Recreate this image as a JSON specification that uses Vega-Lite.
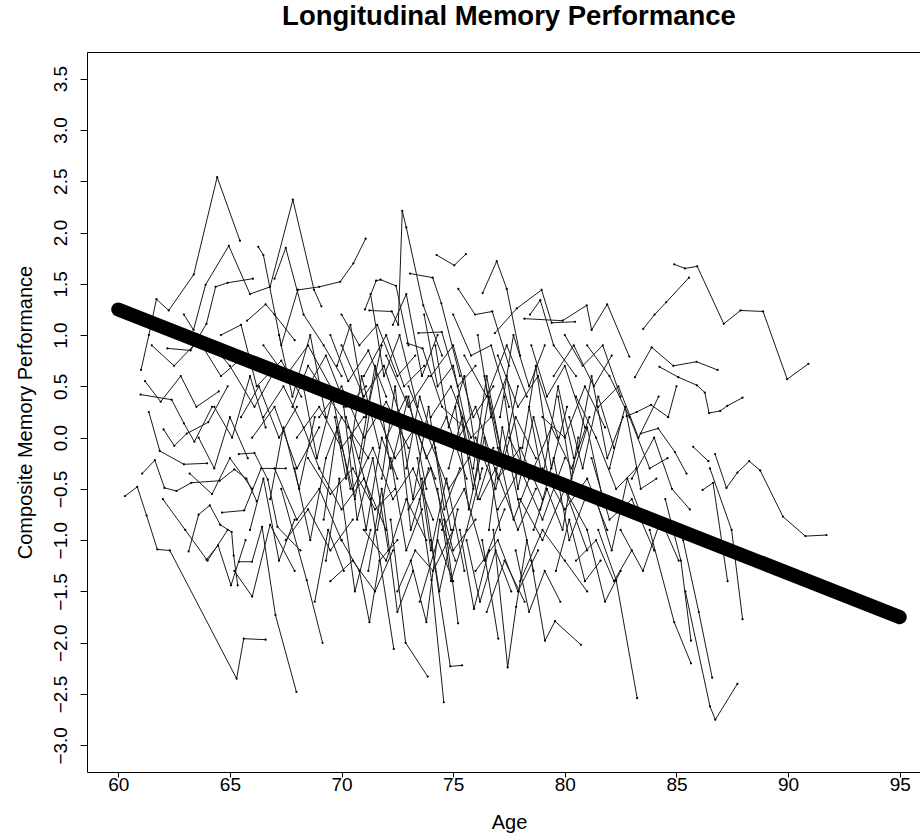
{
"$schema": "https://vega.github.io/schema/vega-lite/v6.json",
"width": 844, "height": 720,
"autosize": {"type": "none"},
"padding": {"left": 87, "top": 52, "right": 0, "bottom": 62},
"background": "white",
"title": {"text": "Longitudinal Memory Performance", "fontSize": 27.5, "fontWeight": "bold", "font": "Liberation Sans", "anchor": "middle", "offset": 0, "baseline": "alphabetic", "color": "black"},
"config": {
  "view": {"stroke": "black", "strokeWidth": 1},
  "axis": {"grid": false, "domain": false, "tickColor": "black", "tickSize": 7, "labelFont": "Liberation Sans", "labelFontSize": 19, "labelColor": "black", "titleFont": "Liberation Sans", "titleFontSize": 20, "titleFontWeight": "normal", "titleColor": "black"}
},
"datasets": {
"fit": [{"age": 60, "mem": 1.25}, {"age": 95, "mem": -1.75}],
"obs": [
{"id":1,"age":60.3,"mem":-0.57},{"id":1,"age":60.85,"mem":-0.48},{"id":1,"age":61.27,"mem":-0.76},{"id":1,"age":61.75,"mem":-1.09},{"id":1,"age":62.31,"mem":-1.1},{"id":1,"age":65.3,"mem":-2.35},{"id":1,"age":65.62,"mem":-1.96},{"id":1,"age":66.6,"mem":-1.97},
{"id":2,"age":61.02,"mem":0.66},{"id":2,"age":61.37,"mem":1.0},{"id":2,"age":61.71,"mem":1.35},{"id":2,"age":62.26,"mem":1.24},{"id":2,"age":63.38,"mem":1.59},{"id":2,"age":64.43,"mem":2.54},{"id":2,"age":65.45,"mem":1.92},
{"id":3,"age":61.07,"mem":-0.35},{"id":3,"age":61.64,"mem":-0.22},{"id":3,"age":62.07,"mem":-0.49},{"id":3,"age":62.61,"mem":-0.52},{"id":3,"age":63.27,"mem":-0.44},{"id":3,"age":64.55,"mem":-0.42},{"id":3,"age":65.2,"mem":-0.31},{"id":3,"age":65.74,"mem":-0.4},{"id":3,"age":66.2,"mem":-0.62},
{"id":4,"age":61.37,"mem":0.25},{"id":4,"age":61.86,"mem":-0.13},{"id":4,"age":62.94,"mem":-0.26},{"id":4,"age":63.98,"mem":-0.25},
{"id":5,"age":62.03,"mem":0.08},{"id":5,"age":62.51,"mem":-0.08},{"id":5,"age":63.07,"mem":0.04},{"id":5,"age":64.03,"mem":0.15},{"id":5,"age":64.9,"mem":0.5},
{"id":6,"age":61.0,"mem":0.42},{"id":6,"age":62.39,"mem":0.37},{"id":6,"age":62.94,"mem":0.14},{"id":6,"age":63.41,"mem":-0.04},{"id":6,"age":64.2,"mem":0.3},
{"id":7,"age":63.15,"mem":-1.11},{"id":7,"age":63.6,"mem":-0.75},{"id":7,"age":64.1,"mem":-0.66},{"id":7,"age":64.57,"mem":-0.85},{"id":7,"age":65.08,"mem":-0.92},{"id":7,"age":65.17,"mem":-1.15},{"id":7,"age":65.35,"mem":-1.44},
{"id":8,"age":63.95,"mem":-1.19},{"id":8,"age":64.47,"mem":-1.05},{"id":8,"age":65.05,"mem":-1.44},{"id":8,"age":65.7,"mem":-1.0},
{"id":9,"age":65.4,"mem":-1.21},{"id":9,"age":65.99,"mem":-1.21},{"id":9,"age":66.44,"mem":-0.87},{"id":9,"age":67.04,"mem":-1.73},{"id":9,"age":67.98,"mem":-2.48},
{"id":10,"age":62.2,"mem":0.87},{"id":10,"age":63.24,"mem":0.85},{"id":10,"age":63.95,"mem":1.11},{"id":10,"age":64.36,"mem":1.47},{"id":10,"age":64.9,"mem":1.51},{"id":10,"age":66.03,"mem":1.55},
{"id":11,"age":62.94,"mem":1.2},{"id":11,"age":63.37,"mem":1.05},{"id":11,"age":63.91,"mem":1.49},{"id":11,"age":64.95,"mem":1.87},{"id":11,"age":65.9,"mem":1.4},{"id":11,"age":66.8,"mem":1.47},{"id":11,"age":67.82,"mem":2.32},{"id":11,"age":68.77,"mem":1.44},{"id":11,"age":69.1,"mem":1.28},
{"id":12,"age":66.27,"mem":1.86},{"id":12,"age":66.5,"mem":1.78},{"id":12,"age":67.3,"mem":0.9},{"id":12,"age":68.04,"mem":1.44},
{"id":13,"age":65.4,"mem":-0.16},{"id":13,"age":66.1,"mem":-0.15},{"id":13,"age":66.7,"mem":-0.41},{"id":13,"age":67.13,"mem":-0.87},{"id":13,"age":68.16,"mem":-1.1},
{"id":14,"age":64.65,"mem":-0.73},{"id":14,"age":65.64,"mem":-0.71},{"id":14,"age":66.4,"mem":-0.3},{"id":14,"age":67.5,"mem":-0.3},
{"id":15,"age":61.2,"mem":0.55},{"id":15,"age":61.9,"mem":0.35},{"id":15,"age":62.8,"mem":0.6},{"id":15,"age":63.5,"mem":0.3},{"id":15,"age":64.5,"mem":0.45},
{"id":16,"age":61.5,"mem":0.9},{"id":16,"age":62.5,"mem":0.7},{"id":16,"age":63.6,"mem":0.95},{"id":16,"age":64.6,"mem":0.6},{"id":16,"age":65.4,"mem":0.75},
{"id":17,"age":62.0,"mem":-0.6},{"id":17,"age":63.0,"mem":-0.9},{"id":17,"age":64.0,"mem":-1.2},{"id":17,"age":64.9,"mem":-0.9},
{"id":18,"age":63.2,"mem":-0.35},{"id":18,"age":64.2,"mem":-0.55},{"id":18,"age":65.0,"mem":-0.2},{"id":18,"age":66.0,"mem":-0.5},
{"id":19,"age":64.0,"mem":0.95},{"id":19,"age":65.0,"mem":0.7},{"id":19,"age":66.1,"mem":0.3},{"id":19,"age":67.0,"mem":0.65},
{"id":20,"age":64.6,"mem":1.0},{"id":20,"age":65.5,"mem":1.1},{"id":20,"age":66.2,"mem":0.5},{"id":20,"age":67.3,"mem":0.75},{"id":20,"age":68.2,"mem":0.4},
{"id":21,"age":65.2,"mem":-1.3},{"id":21,"age":66.0,"mem":-1.55},{"id":21,"age":66.8,"mem":-0.85},{"id":21,"age":67.9,"mem":-1.3},
{"id":23,"age":65.77,"mem":1.14},{"id":23,"age":66.6,"mem":1.3},{"id":23,"age":67.0,"mem":1.2},{"id":23,"age":67.9,"mem":0.95},
{"id":24,"age":66.5,"mem":0.2},{"id":24,"age":67.4,"mem":0.5},{"id":24,"age":68.3,"mem":0.1},{"id":24,"age":69.0,"mem":-0.3},
{"id":25,"age":67.0,"mem":1.55},{"id":25,"age":67.5,"mem":1.85},{"id":25,"age":68.3,"mem":1.2},{"id":25,"age":69.2,"mem":0.9},{"id":25,"age":70.0,"mem":0.6},
{"id":26,"age":67.8,"mem":0.3},{"id":26,"age":68.5,"mem":0.7},{"id":26,"age":69.4,"mem":0.4},{"id":26,"age":70.3,"mem":0.1},{"id":26,"age":71.2,"mem":-0.2},
{"id":27,"age":68.03,"mem":1.44},{"id":27,"age":69.0,"mem":1.47},{"id":27,"age":69.94,"mem":1.52},{"id":27,"age":70.53,"mem":1.7},{"id":27,"age":71.08,"mem":1.94},
{"id":28,"age":68.5,"mem":-0.2},{"id":28,"age":69.5,"mem":-0.55},{"id":28,"age":70.5,"mem":-0.3},{"id":28,"age":71.5,"mem":-0.7},{"id":28,"age":72.4,"mem":-0.5},
{"id":29,"age":67.3,"mem":-0.5},{"id":29,"age":68.44,"mem":-1.39},{"id":29,"age":69.15,"mem":-2.0},
{"id":30,"age":69.0,"mem":0.2},{"id":30,"age":70.0,"mem":0.5},{"id":30,"age":71.0,"mem":0.0},{"id":30,"age":72.0,"mem":0.35},{"id":30,"age":73.0,"mem":-0.1},
{"id":31,"age":69.5,"mem":1.0},{"id":31,"age":70.3,"mem":0.55},{"id":31,"age":71.2,"mem":0.85},{"id":31,"age":72.0,"mem":0.4},
{"id":32,"age":70.0,"mem":-1.0},{"id":32,"age":70.8,"mem":-1.3},{"id":32,"age":71.25,"mem":-1.8},{"id":32,"age":71.7,"mem":-1.2},{"id":32,"age":72.5,"mem":-1.0},
{"id":33,"age":70.2,"mem":0.2},{"id":33,"age":71.3,"mem":-0.6},{"id":33,"age":72.34,"mem":-2.06},
{"id":34,"age":71.05,"mem":1.25},{"id":34,"age":71.55,"mem":1.53},{"id":34,"age":71.75,"mem":1.54},{"id":34,"age":72.44,"mem":1.48},{"id":34,"age":73.0,"mem":0.9},
{"id":35,"age":71.25,"mem":1.24},{"id":35,"age":72.25,"mem":1.23},{"id":35,"age":72.54,"mem":1.1},{"id":35,"age":72.72,"mem":2.21},{"id":35,"age":72.9,"mem":2.05},{"id":35,"age":73.66,"mem":1.29},{"id":35,"age":74.5,"mem":0.8},
{"id":36,"age":73.07,"mem":1.6},{"id":36,"age":74.08,"mem":1.56},{"id":36,"age":74.47,"mem":1.31},{"id":36,"age":75.3,"mem":0.6},
{"id":37,"age":74.26,"mem":1.78},{"id":37,"age":75.05,"mem":1.68},{"id":37,"age":75.57,"mem":1.79},
{"id":38,"age":75.23,"mem":1.45},{"id":38,"age":75.98,"mem":1.2},{"id":38,"age":76.75,"mem":1.23},{"id":38,"age":77.5,"mem":0.7},
{"id":39,"age":73.44,"mem":1.02},{"id":39,"age":74.49,"mem":1.03},{"id":39,"age":75.2,"mem":0.5},{"id":39,"age":76.0,"mem":0.7},
{"id":40,"age":72.95,"mem":0.92},{"id":40,"age":73.63,"mem":0.87},{"id":40,"age":74.5,"mem":0.3},{"id":40,"age":75.5,"mem":0.1},
{"id":41,"age":76.32,"mem":1.41},{"id":41,"age":76.95,"mem":1.72},{"id":41,"age":77.4,"mem":1.45},{"id":41,"age":78.0,"mem":0.8},
{"id":42,"age":76.87,"mem":1.02},{"id":42,"age":77.85,"mem":1.26},{"id":42,"age":78.96,"mem":1.44},{"id":42,"age":79.41,"mem":1.12},{"id":42,"age":80.46,"mem":1.13},
{"id":43,"age":78.44,"mem":1.2},{"id":43,"age":78.9,"mem":1.34},{"id":43,"age":79.5,"mem":0.9},{"id":43,"age":80.5,"mem":0.6},
{"id":44,"age":78.19,"mem":1.16},{"id":44,"age":79.9,"mem":1.14},{"id":44,"age":80.98,"mem":1.29},{"id":44,"age":81.2,"mem":1.05},{"id":44,"age":81.9,"mem":1.3},{"id":44,"age":82.89,"mem":0.79},
{"id":45,"age":83.14,"mem":0.59},{"id":45,"age":83.89,"mem":0.88},{"id":45,"age":84.86,"mem":0.7},{"id":45,"age":85.9,"mem":0.74},{"id":45,"age":86.84,"mem":0.66},
{"id":46,"age":84.9,"mem":1.69},{"id":46,"age":85.38,"mem":1.65},{"id":46,"age":85.93,"mem":1.67},{"id":46,"age":87.12,"mem":1.11},{"id":46,"age":87.87,"mem":1.24},{"id":46,"age":88.88,"mem":1.23},{"id":46,"age":89.96,"mem":0.57},{"id":46,"age":90.91,"mem":0.72},
{"id":47,"age":83.51,"mem":1.06},{"id":47,"age":84.02,"mem":1.2},{"id":47,"age":84.54,"mem":1.32},{"id":47,"age":85.56,"mem":1.56},
{"id":48,"age":84.24,"mem":0.69},{"id":48,"age":85.08,"mem":0.59},{"id":48,"age":85.92,"mem":0.51},{"id":48,"age":86.27,"mem":0.44},{"id":48,"age":86.46,"mem":0.24},{"id":48,"age":86.96,"mem":0.26},{"id":48,"age":87.28,"mem":0.31},{"id":48,"age":87.96,"mem":0.39},
{"id":49,"age":86.73,"mem":-0.16},{"id":49,"age":87.24,"mem":-0.49},{"id":49,"age":87.73,"mem":-0.34},{"id":49,"age":88.26,"mem":-0.23},{"id":49,"age":88.75,"mem":-0.32},{"id":49,"age":89.77,"mem":-0.77},{"id":49,"age":90.77,"mem":-0.96},{"id":49,"age":91.72,"mem":-0.95},
{"id":50,"age":86.17,"mem":-0.51},{"id":50,"age":86.64,"mem":-0.44},{"id":50,"age":87.29,"mem":-1.4},
{"id":51,"age":86.5,"mem":-0.3},{"id":51,"age":87.47,"mem":-0.9},{"id":51,"age":87.96,"mem":-1.77},
{"id":52,"age":85.3,"mem":-1.0},{"id":52,"age":86.0,"mem":-1.7},{"id":52,"age":86.6,"mem":-2.34},
{"id":53,"age":85.4,"mem":-1.5},{"id":53,"age":86.5,"mem":-2.62},{"id":53,"age":86.74,"mem":-2.75},{"id":53,"age":87.73,"mem":-2.4},
{"id":54,"age":81.5,"mem":-0.9},{"id":54,"age":82.3,"mem":-1.39},{"id":54,"age":83.24,"mem":-2.54},
{"id":55,"age":83.8,"mem":-0.9},{"id":55,"age":84.9,"mem":-1.8},{"id":55,"age":85.65,"mem":-2.2},
{"id":56,"age":84.5,"mem":-0.6},{"id":56,"age":85.2,"mem":-1.2},{"id":56,"age":85.65,"mem":-1.98},
{"id":57,"age":78.5,"mem":-1.2},{"id":57,"age":79.11,"mem":-1.98},{"id":57,"age":79.56,"mem":-1.79},{"id":57,"age":80.72,"mem":-2.02},
{"id":58,"age":76.3,"mem":-1.0},{"id":58,"age":77.02,"mem":-1.96},
{"id":59,"age":76.8,"mem":-0.9},{"id":59,"age":77.44,"mem":-2.24},{"id":59,"age":77.82,"mem":-1.65},{"id":59,"age":78.3,"mem":-1.0},
{"id":60,"age":74.0,"mem":-1.0},{"id":60,"age":74.87,"mem":-2.23},{"id":60,"age":75.4,"mem":-2.22},
{"id":61,"age":73.5,"mem":-0.6},{"id":61,"age":74.03,"mem":-1.39},{"id":61,"age":74.58,"mem":-2.58},
{"id":62,"age":72.2,"mem":-0.8},{"id":62,"age":72.87,"mem":-2.0},{"id":62,"age":73.86,"mem":-2.33},
{"id":63,"age":73.6,"mem":-0.4},{"id":63,"age":74.38,"mem":-1.5},{"id":63,"age":75.2,"mem":-0.7},
{"id":64,"age":74.6,"mem":-0.8},{"id":64,"age":75.22,"mem":-1.81},
{"id":65,"age":75.3,"mem":-0.9},{"id":65,"age":75.93,"mem":-1.67},{"id":65,"age":76.6,"mem":-1.1},
{"id":66,"age":76.2,"mem":-0.6},{"id":66,"age":76.9,"mem":-0.3},{"id":66,"age":77.9,"mem":-0.9},{"id":66,"age":78.7,"mem":-0.5},
{"id":67,"age":82.77,"mem":0.21},{"id":67,"age":83.22,"mem":0.25},{"id":67,"age":83.86,"mem":0.32},{"id":67,"age":84.63,"mem":0.2},{"id":67,"age":85.0,"mem":0.5},
{"id":68,"age":83.4,"mem":0.04},{"id":68,"age":84.18,"mem":0.09},{"id":68,"age":84.93,"mem":-0.14},{"id":68,"age":85.45,"mem":-0.35},
{"id":69,"age":85.75,"mem":-0.09},{"id":69,"age":86.43,"mem":-0.23},
{"id":70,"age":81.0,"mem":0.9},{"id":70,"age":82.0,"mem":0.6},{"id":70,"age":82.9,"mem":0.2},{"id":70,"age":83.8,"mem":-0.3},{"id":70,"age":84.6,"mem":-0.2},
{"id":71,"age":80.5,"mem":0.4},{"id":71,"age":81.4,"mem":0.0},{"id":71,"age":82.3,"mem":-0.5},{"id":71,"age":83.2,"mem":-0.3},
{"id":72,"age":81.2,"mem":-0.2},{"id":72,"age":82.0,"mem":-0.8},{"id":72,"age":83.0,"mem":-0.6},{"id":72,"age":84.0,"mem":-1.1},
{"id":73,"age":79.5,"mem":0.6},{"id":73,"age":80.4,"mem":0.9},{"id":73,"age":81.3,"mem":0.5},{"id":73,"age":82.1,"mem":0.8},
{"id":74,"age":80.0,"mem":-0.5},{"id":74,"age":81.0,"mem":-0.9},{"id":74,"age":81.8,"mem":-1.6},{"id":74,"age":82.5,"mem":-1.3},
{"id":75,"age":78.0,"mem":-1.4},{"id":75,"age":79.0,"mem":-0.9},{"id":75,"age":80.0,"mem":-1.2},{"id":75,"age":81.0,"mem":-1.5},
{"id":76,"age":82.5,"mem":-0.9},{"id":76,"age":83.5,"mem":-1.3},{"id":76,"age":84.3,"mem":-0.8},{"id":76,"age":85.1,"mem":-1.2},
{"id":77,"age":70.0,"mem":0.9},{"id":77,"age":71.0,"mem":0.4},{"id":77,"age":71.9,"mem":0.7},{"id":77,"age":72.8,"mem":0.1},
{"id":78,"age":71.0,"mem":-0.9},{"id":78,"age":72.0,"mem":-1.2},{"id":78,"age":72.9,"mem":-0.6},{"id":78,"age":73.8,"mem":-1.0},
{"id":79,"age":72.0,"mem":0.0},{"id":79,"age":72.9,"mem":0.4},{"id":79,"age":73.8,"mem":-0.2},{"id":79,"age":74.7,"mem":0.2},{"id":79,"age":75.6,"mem":-0.4},
{"id":80,"age":73.0,"mem":-0.7},{"id":80,"age":74.0,"mem":-0.3},{"id":80,"age":75.0,"mem":-1.1},{"id":80,"age":76.0,"mem":-0.8},
{"id":81,"age":74.0,"mem":0.6},{"id":81,"age":75.0,"mem":0.9},{"id":81,"age":75.9,"mem":0.2},{"id":81,"age":76.8,"mem":0.5},
{"id":82,"age":75.0,"mem":-0.1},{"id":82,"age":76.0,"mem":0.3},{"id":82,"age":77.0,"mem":-0.4},{"id":82,"age":78.0,"mem":-0.1},{"id":82,"age":79.0,"mem":-0.6},
{"id":83,"age":76.0,"mem":-1.3},{"id":83,"age":77.0,"mem":-1.0},{"id":83,"age":77.9,"mem":-1.5},{"id":83,"age":78.8,"mem":-1.1},
{"id":84,"age":77.0,"mem":0.8},{"id":84,"age":77.9,"mem":0.3},{"id":84,"age":78.8,"mem":0.6},{"id":84,"age":79.7,"mem":0.0},
{"id":85,"age":77.5,"mem":0.0},{"id":85,"age":78.4,"mem":-0.4},{"id":85,"age":79.4,"mem":0.1},{"id":85,"age":80.3,"mem":-0.3},{"id":85,"age":81.1,"mem":0.2},
{"id":86,"age":78.5,"mem":0.9},{"id":86,"age":79.2,"mem":0.4},{"id":86,"age":80.0,"mem":0.7},{"id":86,"age":80.9,"mem":0.1},
{"id":87,"age":79.0,"mem":-0.3},{"id":87,"age":80.0,"mem":-0.7},{"id":87,"age":81.0,"mem":-0.4},{"id":87,"age":81.9,"mem":-0.9},
{"id":88,"age":69.0,"mem":-0.3},{"id":88,"age":70.0,"mem":-0.7},{"id":88,"age":71.0,"mem":-0.4},{"id":88,"age":72.0,"mem":-0.9},
{"id":89,"age":68.0,"mem":0.0},{"id":89,"age":69.0,"mem":0.3},{"id":89,"age":70.0,"mem":-0.1},{"id":89,"age":71.0,"mem":0.2},
{"id":90,"age":67.5,"mem":-1.0},{"id":90,"age":68.5,"mem":-0.7},{"id":90,"age":69.5,"mem":-1.1},{"id":90,"age":70.5,"mem":-0.8},
{"id":91,"age":66.5,"mem":0.9},{"id":91,"age":67.5,"mem":0.6},{"id":91,"age":68.5,"mem":0.9},{"id":91,"age":69.5,"mem":0.5},
{"id":92,"age":70.0,"mem":1.2},{"id":92,"age":70.8,"mem":0.9},{"id":92,"age":71.6,"mem":1.1},{"id":92,"age":72.5,"mem":0.6},{"id":92,"age":73.3,"mem":0.8},
{"id":93,"age":71.5,"mem":0.3},{"id":93,"age":72.4,"mem":-0.2},{"id":93,"age":73.3,"mem":0.1},{"id":93,"age":74.2,"mem":-0.4},
{"id":94,"age":72.5,"mem":-1.5},{"id":94,"age":73.3,"mem":-1.1},{"id":94,"age":74.1,"mem":-1.3},{"id":94,"age":75.0,"mem":-0.9},
{"id":95,"age":73.0,"mem":0.5},{"id":95,"age":73.9,"mem":0.0},{"id":95,"age":74.8,"mem":-0.5},{"id":95,"age":75.7,"mem":-0.2},
{"id":96,"age":74.5,"mem":-0.9},{"id":96,"age":75.5,"mem":-0.5},{"id":96,"age":76.4,"mem":-1.2},{"id":96,"age":77.3,"mem":-0.7},
{"id":97,"age":76.0,"mem":0.0},{"id":97,"age":76.9,"mem":-0.5},{"id":97,"age":77.8,"mem":0.2},{"id":97,"age":78.7,"mem":-0.2},
{"id":98,"age":75.5,"mem":0.8},{"id":98,"age":76.5,"mem":0.4},{"id":98,"age":77.4,"mem":0.9},{"id":98,"age":78.3,"mem":0.4},
{"id":99,"age":78.0,"mem":-0.6},{"id":99,"age":79.0,"mem":-1.0},{"id":99,"age":80.0,"mem":-0.5},{"id":99,"age":81.0,"mem":-1.1},
{"id":100,"age":79.0,"mem":0.2},{"id":100,"age":80.0,"mem":0.0},{"id":100,"age":80.9,"mem":0.5},{"id":100,"age":81.8,"mem":0.1},
{"id":101,"age":69.5,"mem":-1.4},{"id":101,"age":70.5,"mem":-1.2},{"id":101,"age":71.5,"mem":-1.5},{"id":101,"age":72.3,"mem":-1.1},
{"id":102,"age":67.0,"mem":-0.3},{"id":102,"age":68.0,"mem":-0.8},{"id":102,"age":69.0,"mem":-0.5},{"id":102,"age":70.0,"mem":-1.0},
{"id":103,"age":66.0,"mem":0.0},{"id":103,"age":67.0,"mem":0.3},{"id":103,"age":68.0,"mem":-0.3},{"id":103,"age":69.0,"mem":0.1},
{"id":104,"age":71.0,"mem":0.6},{"id":104,"age":72.0,"mem":1.0},{"id":104,"age":72.8,"mem":0.5},{"id":104,"age":73.7,"mem":0.7},
{"id":105,"age":73.5,"mem":-1.6},{"id":105,"age":74.3,"mem":-1.0},{"id":105,"age":75.0,"mem":-1.4},
{"id":106,"age":75.0,"mem":1.2},{"id":106,"age":75.8,"mem":0.8},{"id":106,"age":76.7,"mem":0.9},{"id":106,"age":77.5,"mem":0.3},
{"id":107,"age":80.0,"mem":1.0},{"id":107,"age":80.8,"mem":0.7},{"id":107,"age":81.7,"mem":0.9},{"id":107,"age":82.5,"mem":0.4},
{"id":108,"age":81.5,"mem":0.3},{"id":108,"age":82.4,"mem":0.5},{"id":108,"age":83.3,"mem":0.0},{"id":108,"age":84.2,"mem":0.4},
{"id":109,"age":76.5,"mem":-1.7},{"id":109,"age":77.3,"mem":-1.2},{"id":109,"age":78.2,"mem":-1.6},
{"id":110,"age":70.5,"mem":-0.5},{"id":110,"age":71.4,"mem":-0.1},{"id":110,"age":72.3,"mem":-0.6},{"id":110,"age":73.2,"mem":-0.3},{"id":110,"age":74.1,"mem":-0.8},
{"id":111,"age":74.0,"mem":0.2},{"id":111,"age":74.9,"mem":0.5},{"id":111,"age":75.8,"mem":0.0},{"id":111,"age":76.7,"mem":0.2},
{"id":112,"age":72.0,"mem":0.8},{"id":112,"age":73.0,"mem":0.3},{"id":112,"age":73.9,"mem":0.6},
{"id":113,"age":77.0,"mem":-0.7},{"id":113,"age":78.0,"mem":-0.3},{"id":113,"age":79.0,"mem":-0.8},{"id":113,"age":80.0,"mem":-0.2},
{"id":114,"age":68.5,"mem":0.5},{"id":114,"age":69.3,"mem":0.8},{"id":114,"age":70.2,"mem":0.3},{"id":114,"age":71.1,"mem":0.5},
{"id":115,"age":65.5,"mem":0.2},{"id":115,"age":66.3,"mem":0.5},{"id":115,"age":67.2,"mem":0.0},{"id":115,"age":68.0,"mem":0.3},
{"id":116,"age":83.0,"mem":-0.4},{"id":116,"age":84.0,"mem":0.0},{"id":116,"age":84.8,"mem":-0.5},{"id":116,"age":85.6,"mem":-0.7},
{"id":117,"age":80.5,"mem":-1.2},{"id":117,"age":81.4,"mem":-1.0},{"id":117,"age":82.2,"mem":-1.4},{"id":117,"age":83.0,"mem":-1.1},
{"id":118,"age":68.2,"mem":0.6},{"id":118,"age":68.9,"mem":-0.2},{"id":118,"age":69.6,"mem":0.4},{"id":118,"age":70.4,"mem":-0.5},
{"id":119,"age":69.2,"mem":-0.8},{"id":119,"age":69.8,"mem":0.1},{"id":119,"age":70.6,"mem":-0.6},{"id":119,"age":71.3,"mem":0.3},
{"id":120,"age":70.1,"mem":0.3},{"id":120,"age":70.7,"mem":-0.8},{"id":120,"age":71.4,"mem":-0.2},{"id":120,"age":72.1,"mem":-1.1},
{"id":121,"age":70.8,"mem":-0.2},{"id":121,"age":71.5,"mem":0.7},{"id":121,"age":72.2,"mem":-0.3},{"id":121,"age":73.0,"mem":0.4},{"id":121,"age":73.8,"mem":-0.5},
{"id":122,"age":71.8,"mem":-0.4},{"id":122,"age":72.4,"mem":0.5},{"id":122,"age":73.1,"mem":-0.9},{"id":122,"age":73.9,"mem":-0.3},
{"id":123,"age":72.6,"mem":0.2},{"id":123,"age":73.2,"mem":-0.6},{"id":123,"age":73.9,"mem":0.3},{"id":123,"age":74.6,"mem":-0.7},{"id":123,"age":75.3,"mem":-0.3},
{"id":124,"age":73.4,"mem":-0.2},{"id":124,"age":74.0,"mem":-1.1},{"id":124,"age":74.7,"mem":-0.4},{"id":124,"age":75.5,"mem":-1.3},
{"id":125,"age":74.2,"mem":0.9},{"id":125,"age":74.8,"mem":0.1},{"id":125,"age":75.5,"mem":0.6},{"id":125,"age":76.2,"mem":-0.4},
{"id":126,"age":75.1,"mem":0.3},{"id":126,"age":75.7,"mem":-0.7},{"id":126,"age":76.4,"mem":0.0},{"id":126,"age":77.1,"mem":-0.9},
{"id":127,"age":75.9,"mem":-0.3},{"id":127,"age":76.5,"mem":0.6},{"id":127,"age":77.2,"mem":-0.2},{"id":127,"age":77.9,"mem":0.5},
{"id":128,"age":76.6,"mem":-0.9},{"id":128,"age":77.2,"mem":0.1},{"id":128,"age":77.9,"mem":-0.6},{"id":128,"age":78.6,"mem":-1.3},
{"id":129,"age":77.3,"mem":0.4},{"id":129,"age":77.9,"mem":-0.5},{"id":129,"age":78.6,"mem":0.2},{"id":129,"age":79.3,"mem":-0.4},
{"id":130,"age":78.1,"mem":-0.1},{"id":130,"age":78.7,"mem":0.7},{"id":130,"age":79.4,"mem":-0.3},{"id":130,"age":80.1,"mem":0.3},
{"id":131,"age":78.9,"mem":-0.7},{"id":131,"age":79.5,"mem":-0.2},{"id":131,"age":80.2,"mem":-1.0},{"id":131,"age":80.9,"mem":-0.6},
{"id":132,"age":79.7,"mem":0.4},{"id":132,"age":80.3,"mem":-0.4},{"id":132,"age":81.0,"mem":0.1},{"id":132,"age":81.7,"mem":-0.6},
{"id":133,"age":80.6,"mem":-0.1},{"id":133,"age":81.2,"mem":0.6},{"id":133,"age":81.9,"mem":-0.2},{"id":133,"age":82.6,"mem":0.2},
{"id":134,"age":69.8,"mem":0.7},{"id":134,"age":70.4,"mem":1.1},{"id":134,"age":71.1,"mem":0.2},{"id":134,"age":71.8,"mem":0.9},
{"id":135,"age":71.3,"mem":1.4},{"id":135,"age":71.9,"mem":0.6},{"id":135,"age":72.6,"mem":1.0},{"id":135,"age":73.4,"mem":0.3},
{"id":136,"age":73.7,"mem":1.2},{"id":136,"age":74.3,"mem":0.5},{"id":136,"age":75.0,"mem":0.7},{"id":136,"age":75.8,"mem":-0.1},
{"id":137,"age":76.1,"mem":1.0},{"id":137,"age":76.7,"mem":0.2},{"id":137,"age":77.4,"mem":0.6},{"id":137,"age":78.1,"mem":-0.3},
{"id":138,"age":69.3,"mem":-1.2},{"id":138,"age":69.9,"mem":-0.4},{"id":138,"age":70.6,"mem":-1.5},{"id":138,"age":71.3,"mem":-0.9},
{"id":139,"age":71.2,"mem":-1.3},{"id":139,"age":71.8,"mem":-0.5},{"id":139,"age":72.5,"mem":-1.7},{"id":139,"age":73.2,"mem":-1.3},
{"id":140,"age":73.1,"mem":-1.2},{"id":140,"age":73.8,"mem":-1.8},{"id":140,"age":74.4,"mem":-0.8},{"id":140,"age":75.1,"mem":-1.2},
{"id":141,"age":75.6,"mem":-1.0},{"id":141,"age":76.2,"mem":-1.6},{"id":141,"age":76.9,"mem":-1.1},{"id":141,"age":77.6,"mem":-1.5},
{"id":142,"age":77.8,"mem":-1.1},{"id":142,"age":78.4,"mem":-1.7},{"id":142,"age":79.1,"mem":-1.3},{"id":142,"age":79.8,"mem":-1.6},
{"id":143,"age":79.6,"mem":-1.3},{"id":143,"age":80.2,"mem":-0.8},{"id":143,"age":80.9,"mem":-1.4},{"id":143,"age":81.6,"mem":-1.2},
{"id":144,"age":66.8,"mem":-0.6},{"id":144,"age":67.4,"mem":0.1},{"id":144,"age":68.1,"mem":-0.5},{"id":144,"age":68.8,"mem":0.2},
{"id":145,"age":67.2,"mem":1.0},{"id":145,"age":67.8,"mem":0.4},{"id":145,"age":68.6,"mem":1.0},{"id":145,"age":69.3,"mem":0.2},
{"id":146,"age":65.9,"mem":-0.9},{"id":146,"age":66.5,"mem":-0.4},{"id":146,"age":67.2,"mem":-1.2},{"id":146,"age":67.9,"mem":-0.8},
{"id":147,"age":68.8,"mem":-1.6},{"id":147,"age":69.4,"mem":-0.9},{"id":147,"age":70.1,"mem":-1.3},
{"id":148,"age":72.3,"mem":1.1},{"id":148,"age":72.9,"mem":1.4},{"id":148,"age":73.6,"mem":0.6},{"id":148,"age":74.3,"mem":1.0},
{"id":149,"age":74.8,"mem":-0.3},{"id":149,"age":75.4,"mem":0.2},{"id":149,"age":76.1,"mem":-0.6},{"id":149,"age":76.8,"mem":-0.1},
{"id":150,"age":77.1,"mem":0.2},{"id":150,"age":77.7,"mem":1.0},{"id":150,"age":78.4,"mem":0.5},{"id":150,"age":79.1,"mem":0.9},
{"id":151,"age":80.2,"mem":0.2},{"id":151,"age":80.8,"mem":-0.3},{"id":151,"age":81.5,"mem":0.4},{"id":151,"age":82.2,"mem":-0.1},
{"id":152,"age":82.0,"mem":-0.3},{"id":152,"age":82.7,"mem":0.3},{"id":152,"age":83.4,"mem":-0.5},{"id":152,"age":84.1,"mem":-0.4},
{"id":153,"age":70.4,"mem":0.0},{"id":153,"age":71.1,"mem":-0.9},{"id":153,"age":71.8,"mem":0.0},{"id":153,"age":72.5,"mem":-0.4},
{"id":154,"age":72.9,"mem":-0.3},{"id":154,"age":73.5,"mem":0.4},{"id":154,"age":74.2,"mem":-0.1},{"id":154,"age":74.9,"mem":-0.9},
{"id":155,"age":74.3,"mem":-0.5},{"id":155,"age":74.9,"mem":-1.4},{"id":155,"age":75.6,"mem":-0.9},{"id":155,"age":76.3,"mem":-0.3},
{"id":156,"age":76.4,"mem":0.6},{"id":156,"age":77.0,"mem":-0.1},{"id":156,"age":77.7,"mem":-0.8},{"id":156,"age":78.4,"mem":-0.4},
{"id":157,"age":78.4,"mem":0.3},{"id":157,"age":79.0,"mem":-0.4},{"id":157,"age":79.7,"mem":0.5},{"id":157,"age":80.4,"mem":-0.2},
{"id":158,"age":81.4,"mem":-0.6},{"id":158,"age":82.1,"mem":-1.1},{"id":158,"age":82.8,"mem":-0.4},{"id":158,"age":83.5,"mem":-0.8},
{"id":159,"age":63.6,"mem":0.0},{"id":159,"age":64.3,"mem":-0.3},{"id":159,"age":65.0,"mem":0.2},{"id":159,"age":65.8,"mem":-0.2},
{"id":160,"age":64.3,"mem":0.3},{"id":160,"age":65.1,"mem":0.0},{"id":160,"age":65.9,"mem":0.6},{"id":160,"age":66.6,"mem":0.1},
{"id":161,"age":69.7,"mem":0.2},{"id":161,"age":70.2,"mem":-0.4},{"id":161,"age":70.9,"mem":0.6},{"id":161,"age":71.7,"mem":-0.1},
{"id":162,"age":71.6,"mem":-0.9},{"id":162,"age":72.2,"mem":-0.2},{"id":162,"age":72.9,"mem":-1.1},{"id":162,"age":73.6,"mem":-0.7},
{"id":163,"age":75.2,"mem":0.4},{"id":163,"age":75.9,"mem":-0.5},{"id":163,"age":76.6,"mem":0.4},{"id":163,"age":77.3,"mem":-0.3},
{"id":164,"age":78.6,"mem":-0.9},{"id":164,"age":79.2,"mem":-0.5},{"id":164,"age":79.9,"mem":-0.9},{"id":164,"age":80.6,"mem":0.0},
{"id":165,"age":67.9,"mem":-0.3},{"id":165,"age":68.6,"mem":-1.0},{"id":165,"age":69.3,"mem":-0.2},{"id":165,"age":70.0,"mem":0.2}
]
},
"layer": [
{
 "data": {"name": "obs"},
 "mark": {"type": "line", "stroke": "#1a1a1a", "strokeWidth": 1},
 "encoding": {
  "x": {"field": "age", "type": "quantitative", "scale": {"domain": [58.6, 96.4], "nice": false, "zero": false},
        "axis": {"values": [60, 65, 70, 75, 80, 85, 90, 95], "title": "Age", "tickSize": 5, "labelPadding": -2, "titleY": 50, "titleBaseline": "middle"}},
  "y": {"field": "mem", "type": "quantitative", "scale": {"domain": [-3.26, 3.76], "nice": false, "zero": false},
        "axis": {"values": [-3, -2.5, -2, -1.5, -1, -0.5, 0, 0.5, 1, 1.5, 2, 2.5, 3, 3.5], "format": ".1f", "labelAngle": -90, "labelAlign": "center", "labelBaseline": "bottom", "labelPadding": 10, "title": "Composite Memory Performance", "titleX": -62, "titleY": 360, "titleAngle": -90, "titleAlign": "center", "titleBaseline": "middle"}},
  "detail": {"field": "id", "type": "nominal"}
 }
},
{
 "data": {"name": "obs"},
 "mark": {"type": "point", "filled": true, "size": 5, "color": "black", "opacity": 1},
 "encoding": {
  "x": {"field": "age", "type": "quantitative"},
  "y": {"field": "mem", "type": "quantitative"}
 }
},
{
 "data": {"name": "fit"},
 "mark": {"type": "line", "stroke": "black", "strokeWidth": 14, "strokeCap": "round"},
 "encoding": {
  "x": {"field": "age", "type": "quantitative"},
  "y": {"field": "mem", "type": "quantitative"}
 }
}
]
}
